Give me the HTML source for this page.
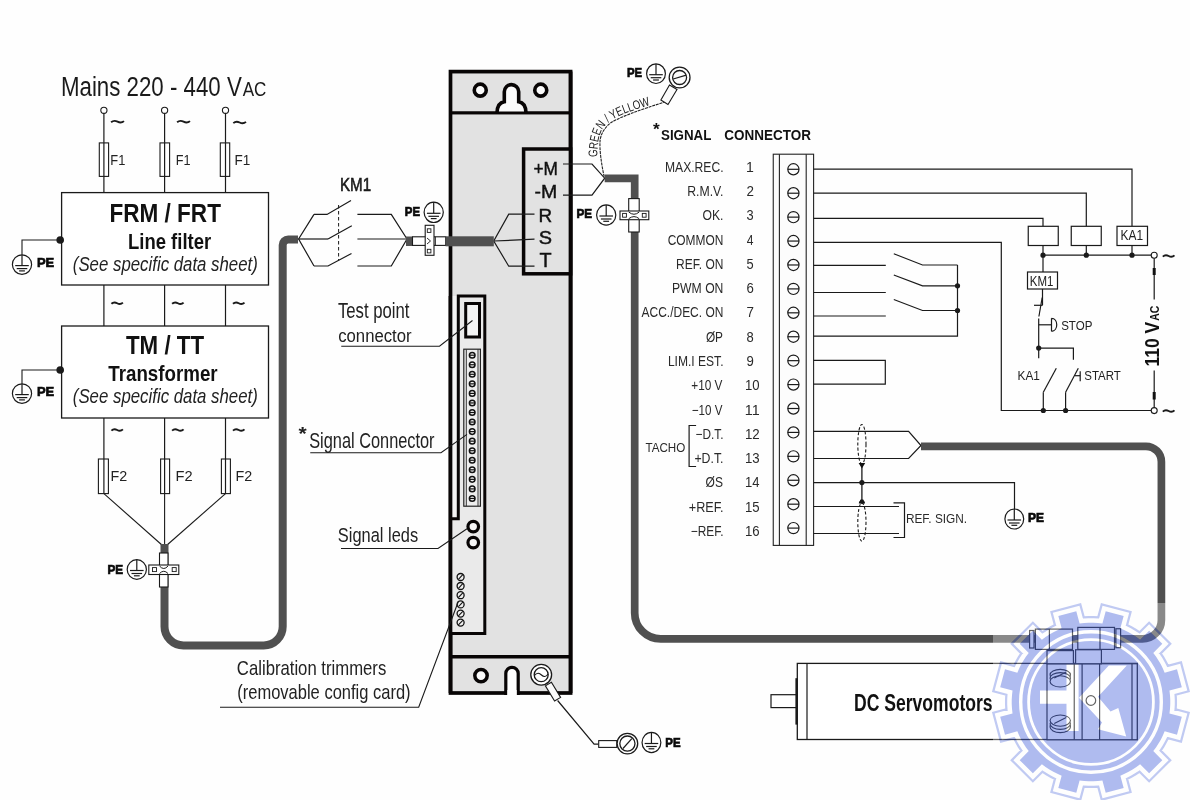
<!DOCTYPE html>
<html><head><meta charset="utf-8"><style>
html,body{margin:0;padding:0;background:#fff;}
svg{display:block;will-change:transform;}
</style></head><body>
<svg width="1190" height="800" viewBox="0 0 1190 800">
<rect width="1190" height="800" fill="#fefefe"/>
<text x="60.96" y="95.5" font-family="Liberation Sans" font-size="26.91" font-weight="normal" font-style="normal" fill="#1a1a1a" textLength="180.82" lengthAdjust="spacingAndGlyphs" >Mains 220 - 440 V</text>
<text x="242.76" y="95.5" font-family="Liberation Sans" font-size="19.35" font-weight="normal" font-style="normal" fill="#1a1a1a" textLength="23.67" lengthAdjust="spacingAndGlyphs" >AC</text>
<circle cx="103.9" cy="110.3" r="3.1" fill="#fff" stroke="#1a1a1a" stroke-width="1.1" />
<line x1="103.9" y1="113.4" x2="103.9" y2="192.6" stroke="#1a1a1a" stroke-width="1.2" />
<circle cx="164.6" cy="110.3" r="3.1" fill="#fff" stroke="#1a1a1a" stroke-width="1.1" />
<line x1="164.6" y1="113.4" x2="164.6" y2="192.6" stroke="#1a1a1a" stroke-width="1.2" />
<circle cx="225.5" cy="110.3" r="3.1" fill="#fff" stroke="#1a1a1a" stroke-width="1.1" />
<line x1="225.5" y1="113.4" x2="225.5" y2="192.6" stroke="#1a1a1a" stroke-width="1.2" />
<path d="M111.1,122.3 C113.67999999999999,120.10000000000001 115.615,120.7 117.55,121.7 S121.42,123.3 124.0,121.10000000000001" fill="none" stroke="#1a1a1a" stroke-width="1.9" />
<path d="M177.1,122.3 C179.68,120.10000000000001 181.615,120.7 183.55,121.7 S187.42,123.3 190.0,121.10000000000001" fill="none" stroke="#1a1a1a" stroke-width="1.9" />
<path d="M233.3,123.1 C235.84,120.9 237.745,121.5 239.65,122.5 S243.46,124.1 246.0,121.9" fill="none" stroke="#1a1a1a" stroke-width="1.9" />
<rect x="99.3" y="142.9" width="9.299999999999997" height="33.5" fill="#fff" stroke="#1a1a1a" stroke-width="1.1" />
<rect x="160.0" y="142.9" width="9.599999999999994" height="33.5" fill="#fff" stroke="#1a1a1a" stroke-width="1.1" />
<rect x="220.3" y="142.9" width="9.399999999999977" height="33.5" fill="#fff" stroke="#1a1a1a" stroke-width="1.1" />
<line x1="103.9" y1="142.9" x2="103.9" y2="176.4" stroke="#1a1a1a" stroke-width="1.2" />
<line x1="164.6" y1="142.9" x2="164.6" y2="176.4" stroke="#1a1a1a" stroke-width="1.2" />
<line x1="225.5" y1="142.9" x2="225.5" y2="176.4" stroke="#1a1a1a" stroke-width="1.2" />
<text x="110.34" y="164.6" font-family="Liberation Sans" font-size="13.96" font-weight="normal" font-style="normal" fill="#222" textLength="15.0" lengthAdjust="spacingAndGlyphs" >F1</text>
<text x="175.86" y="164.6" font-family="Liberation Sans" font-size="13.96" font-weight="normal" font-style="normal" fill="#222" textLength="14.77" lengthAdjust="spacingAndGlyphs" >F1</text>
<text x="234.58" y="164.6" font-family="Liberation Sans" font-size="13.96" font-weight="normal" font-style="normal" fill="#222" textLength="15.79" lengthAdjust="spacingAndGlyphs" >F1</text>
<rect x="61.6" y="192.6" width="206.9" height="92.4" fill="#fff" stroke="#1a1a1a" stroke-width="1.3" />
<text x="109.38" y="221.5" font-family="Liberation Sans" font-size="25.66" font-weight="bold" font-style="normal" fill="#111" textLength="111.57" lengthAdjust="spacingAndGlyphs" >FRM / FRT</text>
<text x="128.05" y="248.5" font-family="Liberation Sans" font-size="21.96" font-weight="bold" font-style="normal" fill="#111" textLength="83.09" lengthAdjust="spacingAndGlyphs" >Line filter</text>
<text x="72.8" y="270.9" font-family="Liberation Sans" font-size="19.31" font-weight="normal" font-style="italic" fill="#222" textLength="185.03" lengthAdjust="spacingAndGlyphs" >(See specific data sheet)</text>
<line x1="103.9" y1="285" x2="103.9" y2="326" stroke="#1a1a1a" stroke-width="1.2" />
<line x1="164.6" y1="285" x2="164.6" y2="326" stroke="#1a1a1a" stroke-width="1.2" />
<line x1="225.5" y1="285" x2="225.5" y2="326" stroke="#1a1a1a" stroke-width="1.2" />
<path d="M111.4,303.8 C113.7,301.59999999999997 115.42500000000001,302.2 117.15,303.2 S120.60000000000001,304.8 122.9,302.59999999999997" fill="none" stroke="#1a1a1a" stroke-width="1.9" />
<path d="M172.1,303.8 C174.4,301.59999999999997 176.125,302.2 177.85,303.2 S181.29999999999998,304.8 183.6,302.59999999999997" fill="none" stroke="#1a1a1a" stroke-width="1.9" />
<path d="M233.0,303.8 C235.3,301.59999999999997 237.025,302.2 238.75,303.2 S242.2,304.8 244.5,302.59999999999997" fill="none" stroke="#1a1a1a" stroke-width="1.9" />
<rect x="61.6" y="326.0" width="206.9" height="92.0" fill="#fff" stroke="#1a1a1a" stroke-width="1.3" />
<text x="125.98" y="353.5" font-family="Liberation Sans" font-size="25.66" font-weight="bold" font-style="normal" fill="#111" textLength="78.08" lengthAdjust="spacingAndGlyphs" >TM / TT</text>
<text x="108.31" y="380.8" font-family="Liberation Sans" font-size="22.69" font-weight="bold" font-style="normal" fill="#111" textLength="109.33" lengthAdjust="spacingAndGlyphs" >Transformer</text>
<text x="72.8" y="402.6" font-family="Liberation Sans" font-size="19.45" font-weight="normal" font-style="italic" fill="#222" textLength="185.03" lengthAdjust="spacingAndGlyphs" >(See specific data sheet)</text>
<circle cx="60.2" cy="240.0" r="3.8" fill="#1a1a1a"/>
<polyline points="60.2,240.0 22.0,240.0 22.0,254.8" fill="none" stroke="#1a1a1a" stroke-width="1.1" />
<ellipse cx="22.0" cy="264.6" rx="9.6" ry="9.8" fill="#fff" stroke="#1a1a1a" stroke-width="1.2"/>
<line x1="22.0" y1="254.8" x2="22.0" y2="265.6" stroke="#1a1a1a" stroke-width="1.2" />
<line x1="15.2" y1="265.6" x2="28.8" y2="265.6" stroke="#1a1a1a" stroke-width="1.2" />
<line x1="16.7" y1="268.6" x2="27.3" y2="268.6" stroke="#1a1a1a" stroke-width="1.2" />
<line x1="19.1" y1="270.90000000000003" x2="24.9" y2="270.90000000000003" stroke="#1a1a1a" stroke-width="1.2" />
<text x="36.93" y="267.1" font-family="Liberation Sans" font-size="13.09" font-weight="bold" font-style="normal" fill="#0a0a0a" textLength="17.28" lengthAdjust="spacingAndGlyphs" stroke="#0a0a0a" stroke-width="0.7">PE</text>
<circle cx="60.2" cy="370.0" r="3.8" fill="#1a1a1a"/>
<polyline points="60.2,370.0 22.0,370.0 22.0,383.8" fill="none" stroke="#1a1a1a" stroke-width="1.1" />
<ellipse cx="22.0" cy="393.6" rx="9.6" ry="9.8" fill="#fff" stroke="#1a1a1a" stroke-width="1.2"/>
<line x1="22.0" y1="383.8" x2="22.0" y2="394.6" stroke="#1a1a1a" stroke-width="1.2" />
<line x1="15.2" y1="394.6" x2="28.8" y2="394.6" stroke="#1a1a1a" stroke-width="1.2" />
<line x1="16.7" y1="397.6" x2="27.3" y2="397.6" stroke="#1a1a1a" stroke-width="1.2" />
<line x1="19.1" y1="399.90000000000003" x2="24.9" y2="399.90000000000003" stroke="#1a1a1a" stroke-width="1.2" />
<text x="36.93" y="396.1" font-family="Liberation Sans" font-size="13.09" font-weight="bold" font-style="normal" fill="#0a0a0a" textLength="17.28" lengthAdjust="spacingAndGlyphs" stroke="#0a0a0a" stroke-width="0.7">PE</text>
<line x1="103.9" y1="418" x2="103.9" y2="459" stroke="#1a1a1a" stroke-width="1.2" />
<line x1="164.6" y1="418" x2="164.6" y2="459" stroke="#1a1a1a" stroke-width="1.2" />
<line x1="225.5" y1="418" x2="225.5" y2="459" stroke="#1a1a1a" stroke-width="1.2" />
<path d="M111.4,430.6 C113.7,428.4 115.42500000000001,429.0 117.15,430.0 S120.60000000000001,431.6 122.9,429.4" fill="none" stroke="#1a1a1a" stroke-width="1.9" />
<path d="M172.1,430.6 C174.4,428.4 176.125,429.0 177.85,430.0 S181.29999999999998,431.6 183.6,429.4" fill="none" stroke="#1a1a1a" stroke-width="1.9" />
<path d="M233.0,430.6 C235.3,428.4 237.025,429.0 238.75,430.0 S242.2,431.6 244.5,429.4" fill="none" stroke="#1a1a1a" stroke-width="1.9" />
<rect x="98.4" y="459.0" width="10.0" height="34.6" fill="#fff" stroke="#1a1a1a" stroke-width="1.1" />
<line x1="103.9" y1="459" x2="103.9" y2="493.6" stroke="#1a1a1a" stroke-width="1.2" />
<rect x="160.6" y="459.0" width="9.0" height="34.6" fill="#fff" stroke="#1a1a1a" stroke-width="1.1" />
<line x1="164.6" y1="459" x2="164.6" y2="493.6" stroke="#1a1a1a" stroke-width="1.2" />
<rect x="221.4" y="459.0" width="9.0" height="34.6" fill="#fff" stroke="#1a1a1a" stroke-width="1.1" />
<line x1="225.5" y1="459" x2="225.5" y2="493.6" stroke="#1a1a1a" stroke-width="1.2" />
<text x="110.62" y="480.8" font-family="Liberation Sans" font-size="14.48" font-weight="normal" font-style="normal" fill="#222" textLength="16.73" lengthAdjust="spacingAndGlyphs" >F2</text>
<text x="175.49" y="480.8" font-family="Liberation Sans" font-size="14.48" font-weight="normal" font-style="normal" fill="#222" textLength="17.07" lengthAdjust="spacingAndGlyphs" >F2</text>
<text x="235.62" y="480.8" font-family="Liberation Sans" font-size="14.48" font-weight="normal" font-style="normal" fill="#222" textLength="16.73" lengthAdjust="spacingAndGlyphs" >F2</text>
<polyline points="103.9,493.6 162.5,545.5" fill="none" stroke="#1a1a1a" stroke-width="1.1" />
<polyline points="164.6,493.6 164.6,545.5" fill="none" stroke="#1a1a1a" stroke-width="1.1" />
<polyline points="225.5,493.6 166.5,545.5" fill="none" stroke="#1a1a1a" stroke-width="1.1" />
<path d="M164.5,544 L164.5,626.5 A19,19 0 0 0 183.5,645.5 L263.7,645.5 A19,19 0 0 0 282.7,626.5 L282.7,245 A5.5,5.5 0 0 1 288.2,239.5 L298,239.5" fill="none" stroke="#505050" stroke-width="8" stroke-linejoin="round"/>
<rect x="159.5" y="553" width="8.5" height="34" fill="#fff" stroke="#1a1a1a" stroke-width="1.1" />
<rect x="148.8" y="565" width="30" height="9.5" fill="#fff" stroke="#1a1a1a" stroke-width="1.1" />
<rect x="152.5" y="567.6" width="4" height="4" fill="none" stroke="#1a1a1a" stroke-width="0.9" />
<rect x="172.2" y="567.6" width="4" height="4" fill="none" stroke="#1a1a1a" stroke-width="0.9" />
<path d="M159.5,566 Q163.8,571 168,566" fill="none" stroke="#1a1a1a" stroke-width="1.0" />
<path d="M159.5,573.5 Q163.8,569 168,573.5" fill="none" stroke="#1a1a1a" stroke-width="1.0" />
<ellipse cx="136.8" cy="569.5" rx="9.6" ry="9.8" fill="#fff" stroke="#1a1a1a" stroke-width="1.2"/>
<line x1="136.8" y1="559.7" x2="136.8" y2="570.5" stroke="#1a1a1a" stroke-width="1.2" />
<line x1="130.0" y1="570.5" x2="143.60000000000002" y2="570.5" stroke="#1a1a1a" stroke-width="1.2" />
<line x1="131.5" y1="573.5" x2="142.10000000000002" y2="573.5" stroke="#1a1a1a" stroke-width="1.2" />
<line x1="133.9" y1="575.8" x2="139.70000000000002" y2="575.8" stroke="#1a1a1a" stroke-width="1.2" />
<text x="107.51" y="573.5" font-family="Liberation Sans" font-size="11.93" font-weight="bold" font-style="normal" fill="#0a0a0a" textLength="15.65" lengthAdjust="spacingAndGlyphs" stroke="#0a0a0a" stroke-width="0.7">PE</text>
<rect x="450.5" y="71.6" width="120.1" height="621.4" fill="#e2e2e2" stroke="#080505" stroke-width="3.7" />
<line x1="450.5" y1="112.8" x2="570.6" y2="112.8" stroke="#080505" stroke-width="2.7" />
<line x1="450.5" y1="656.7" x2="570.6" y2="656.7" stroke="#080505" stroke-width="3.4" />
<circle cx="480.25" cy="90.15" r="6.0" fill="#fbfbfb" stroke="#080505" stroke-width="3.6" />
<circle cx="540.75" cy="90.15" r="6.0" fill="#fbfbfb" stroke="#080505" stroke-width="3.6" />
<path d="M497.0,112.8 Q497.3,102.8 504.3,101.8 L504.3,91.8 A7.2,7.2 0 0 1 518.7,91.8 L518.7,101.8 Q525.7,102.8 526.0,112.8" fill="#fbfbfb" stroke="#080505" stroke-width="3.6" />
<line x1="450.5" y1="112.8" x2="570.6" y2="112.8" stroke="#080505" stroke-width="2.7" />
<rect x="523.6" y="149.0" width="47.0" height="124.8" fill="#e2e2e2" stroke="#080505" stroke-width="3.5" />
<line x1="570.6" y1="71.6" x2="570.6" y2="693" stroke="#080505" stroke-width="3.7" />
<text x="533.48" y="175.2" font-family="Liberation Sans" font-size="18.47" font-weight="normal" font-style="normal" fill="#111" textLength="24.43" lengthAdjust="spacingAndGlyphs" stroke="#111" stroke-width="0.45">+M</text>
<text x="534.62" y="197.8" font-family="Liberation Sans" font-size="19.2" font-weight="normal" font-style="normal" fill="#111" textLength="22.7" lengthAdjust="spacingAndGlyphs" stroke="#111" stroke-width="0.45">-M</text>
<text x="538.44" y="221.7" font-family="Liberation Sans" font-size="18.62" font-weight="normal" font-style="normal" fill="#111" textLength="13.65" lengthAdjust="spacingAndGlyphs" stroke="#111" stroke-width="0.45">R</text>
<text x="538.8" y="243.6" font-family="Liberation Sans" font-size="18.06" font-weight="normal" font-style="normal" fill="#111" textLength="13.28" lengthAdjust="spacingAndGlyphs" stroke="#111" stroke-width="0.45">S</text>
<text x="539.55" y="267.4" font-family="Liberation Sans" font-size="19.64" font-weight="normal" font-style="normal" fill="#111" textLength="12.11" lengthAdjust="spacingAndGlyphs" stroke="#111" stroke-width="0.45">T</text>
<polyline points="534.5,214.2 508.75,214.2 493.75,241.0 508.75,266.2 534.5,266.2" fill="none" stroke="#1a1a1a" stroke-width="1.2" />
<line x1="493.75" y1="241.0" x2="534.5" y2="239.2" stroke="#1a1a1a" stroke-width="1.2" />
<polyline points="563.0,164.0 592.0,164.0 604.7,178.2 592.0,195.2 563.0,195.2" fill="none" stroke="#1a1a1a" stroke-width="1.2" />
<rect x="452" y="296" width="6" height="222" fill="#f3f3f3"/>
<path d="M458.3,296 L484.8,296 L484.8,633.4 L450.5,633.4 L450.5,518.8 L458.3,518.8 Z" fill="#eaeaea" stroke="#080505" stroke-width="3"/>
<line x1="450.5" y1="296" x2="450.5" y2="693" stroke="#080505" stroke-width="3.7" />
<rect x="465.7" y="303.5" width="13.8" height="33.5" fill="#f4f4f4" stroke="#080505" stroke-width="3.0" />
<rect x="463.8" y="349.2" width="16.6" height="157.0" fill="#eeeeee" stroke="#222" stroke-width="1.2" />
<line x1="466.3" y1="349.2" x2="466.3" y2="506.2" stroke="#333" stroke-width="1.0" />
<line x1="478.0" y1="349.2" x2="478.0" y2="506.2" stroke="#333" stroke-width="1.0" />
<circle cx="472.2" cy="355.2" r="2.8" fill="#f4f4f4" stroke="#111" stroke-width="1.5" />
<line x1="469.4" y1="355.2" x2="475.0" y2="355.2" stroke="#111" stroke-width="1.2" />
<circle cx="472.2" cy="364.75" r="2.8" fill="#f4f4f4" stroke="#111" stroke-width="1.5" />
<line x1="469.4" y1="364.75" x2="475.0" y2="364.75" stroke="#111" stroke-width="1.2" />
<circle cx="472.2" cy="374.3" r="2.8" fill="#f4f4f4" stroke="#111" stroke-width="1.5" />
<line x1="469.4" y1="374.3" x2="475.0" y2="374.3" stroke="#111" stroke-width="1.2" />
<circle cx="472.2" cy="383.84999999999997" r="2.8" fill="#f4f4f4" stroke="#111" stroke-width="1.5" />
<line x1="469.4" y1="383.84999999999997" x2="475.0" y2="383.84999999999997" stroke="#111" stroke-width="1.2" />
<circle cx="472.2" cy="393.4" r="2.8" fill="#f4f4f4" stroke="#111" stroke-width="1.5" />
<line x1="469.4" y1="393.4" x2="475.0" y2="393.4" stroke="#111" stroke-width="1.2" />
<circle cx="472.2" cy="402.95" r="2.8" fill="#f4f4f4" stroke="#111" stroke-width="1.5" />
<line x1="469.4" y1="402.95" x2="475.0" y2="402.95" stroke="#111" stroke-width="1.2" />
<circle cx="472.2" cy="412.5" r="2.8" fill="#f4f4f4" stroke="#111" stroke-width="1.5" />
<line x1="469.4" y1="412.5" x2="475.0" y2="412.5" stroke="#111" stroke-width="1.2" />
<circle cx="472.2" cy="422.05" r="2.8" fill="#f4f4f4" stroke="#111" stroke-width="1.5" />
<line x1="469.4" y1="422.05" x2="475.0" y2="422.05" stroke="#111" stroke-width="1.2" />
<circle cx="472.2" cy="431.6" r="2.8" fill="#f4f4f4" stroke="#111" stroke-width="1.5" />
<line x1="469.4" y1="431.6" x2="475.0" y2="431.6" stroke="#111" stroke-width="1.2" />
<circle cx="472.2" cy="441.15" r="2.8" fill="#f4f4f4" stroke="#111" stroke-width="1.5" />
<line x1="469.4" y1="441.15" x2="475.0" y2="441.15" stroke="#111" stroke-width="1.2" />
<circle cx="472.2" cy="450.7" r="2.8" fill="#f4f4f4" stroke="#111" stroke-width="1.5" />
<line x1="469.4" y1="450.7" x2="475.0" y2="450.7" stroke="#111" stroke-width="1.2" />
<circle cx="472.2" cy="460.25" r="2.8" fill="#f4f4f4" stroke="#111" stroke-width="1.5" />
<line x1="469.4" y1="460.25" x2="475.0" y2="460.25" stroke="#111" stroke-width="1.2" />
<circle cx="472.2" cy="469.8" r="2.8" fill="#f4f4f4" stroke="#111" stroke-width="1.5" />
<line x1="469.4" y1="469.8" x2="475.0" y2="469.8" stroke="#111" stroke-width="1.2" />
<circle cx="472.2" cy="479.35" r="2.8" fill="#f4f4f4" stroke="#111" stroke-width="1.5" />
<line x1="469.4" y1="479.35" x2="475.0" y2="479.35" stroke="#111" stroke-width="1.2" />
<circle cx="472.2" cy="488.9" r="2.8" fill="#f4f4f4" stroke="#111" stroke-width="1.5" />
<line x1="469.4" y1="488.9" x2="475.0" y2="488.9" stroke="#111" stroke-width="1.2" />
<circle cx="472.2" cy="498.45" r="2.8" fill="#f4f4f4" stroke="#111" stroke-width="1.5" />
<line x1="469.4" y1="498.45" x2="475.0" y2="498.45" stroke="#111" stroke-width="1.2" />
<circle cx="473.25" cy="526.6" r="5.3" fill="#f6f6f6" stroke="#080505" stroke-width="3.2" />
<circle cx="473.25" cy="542.6" r="5.3" fill="#f6f6f6" stroke="#080505" stroke-width="3.2" />
<circle cx="460.6" cy="577.0" r="3.5" fill="#f0f0f0" stroke="#111" stroke-width="1.3" />
<line x1="458.4" y1="579.3" x2="462.8" y2="574.7" stroke="#111" stroke-width="1.1" />
<circle cx="460.6" cy="586.0" r="3.5" fill="#f0f0f0" stroke="#111" stroke-width="1.3" />
<line x1="458.4" y1="588.3" x2="462.8" y2="583.7" stroke="#111" stroke-width="1.1" />
<circle cx="460.6" cy="595.2" r="3.5" fill="#f0f0f0" stroke="#111" stroke-width="1.3" />
<line x1="458.4" y1="597.5" x2="462.8" y2="592.9000000000001" stroke="#111" stroke-width="1.1" />
<circle cx="460.6" cy="604.4" r="3.5" fill="#f0f0f0" stroke="#111" stroke-width="1.3" />
<line x1="458.4" y1="606.6999999999999" x2="462.8" y2="602.1" stroke="#111" stroke-width="1.1" />
<circle cx="460.6" cy="613.6" r="3.5" fill="#f0f0f0" stroke="#111" stroke-width="1.3" />
<line x1="458.4" y1="615.9" x2="462.8" y2="611.3000000000001" stroke="#111" stroke-width="1.1" />
<circle cx="460.6" cy="622.6" r="3.5" fill="#f0f0f0" stroke="#111" stroke-width="1.3" />
<line x1="458.4" y1="624.9" x2="462.8" y2="620.3000000000001" stroke="#111" stroke-width="1.1" />
<circle cx="481.0" cy="675.6" r="6.2" fill="#fbfbfb" stroke="#080505" stroke-width="3.5" />
<path d="M505.8,695 L505.8,673.6 A6.2,6.2 0 0 1 518.2,673.6 L518.2,695" fill="#fefefe" stroke="#080505" stroke-width="3.2" />
<rect x="507.4" y="690" width="9.2" height="8" fill="#fefefe"/>
<polygon points="545.4,685.9 551.4,682.3 560.6,697.4 554.6,701.0" fill="#fbfbfb" stroke="#1a1a1a" stroke-width="1.1"/>
<circle cx="541.2" cy="674.7" r="10.4" fill="#fff" stroke="#1a1a1a" stroke-width="1.3" />
<circle cx="541.2" cy="674.7" r="7.0" fill="#fff" stroke="#1a1a1a" stroke-width="1.3" />
<path d="M534.5,675.5 C537,672 539.5,673 541.5,675 S546,677.5 548,674" fill="none" stroke="#1a1a1a" stroke-width="1.1" />
<polyline points="557.6,700.5 594.1,744.2 598.7,744.2" fill="none" stroke="#1a1a1a" stroke-width="1.2" />
<rect x="598.7" y="740.6" width="18.1" height="6.8" fill="#fff" stroke="#1a1a1a" stroke-width="1.1" />
<circle cx="627.4" cy="743.6" r="10.3" fill="#fff" stroke="#1a1a1a" stroke-width="1.3" />
<circle cx="627.4" cy="743.6" r="7.6" fill="#fff" stroke="#1a1a1a" stroke-width="1.3" />
<line x1="623.0" y1="748.5" x2="631.8" y2="738.7" stroke="#1a1a1a" stroke-width="1.2" />
<ellipse cx="651.45" cy="742.5" rx="9.4" ry="10.1" fill="#fff" stroke="#1a1a1a" stroke-width="1.2"/>
<line x1="651.45" y1="732.4" x2="651.45" y2="743.5" stroke="#1a1a1a" stroke-width="1.2" />
<line x1="644.6500000000001" y1="743.5" x2="658.25" y2="743.5" stroke="#1a1a1a" stroke-width="1.2" />
<line x1="646.1500000000001" y1="746.5" x2="656.75" y2="746.5" stroke="#1a1a1a" stroke-width="1.2" />
<line x1="648.5500000000001" y1="748.8" x2="654.35" y2="748.8" stroke="#1a1a1a" stroke-width="1.2" />
<text x="665.32" y="746.6" font-family="Liberation Sans" font-size="12.87" font-weight="bold" font-style="normal" fill="#0a0a0a" textLength="15.32" lengthAdjust="spacingAndGlyphs" stroke="#0a0a0a" stroke-width="0.7">PE</text>
<text x="339.95" y="190.6" font-family="Liberation Sans" font-size="17.6" font-weight="normal" font-style="normal" fill="#1a1a1a" textLength="31.19" lengthAdjust="spacingAndGlyphs" stroke="#1a1a1a" stroke-width="0.55">KM1</text>
<polyline points="314,214.4 298.6,239 314,266" fill="none" stroke="#1a1a1a" stroke-width="1.2" />
<line x1="298.6" y1="239" x2="328" y2="239" stroke="#1a1a1a" stroke-width="1.2" />
<polyline points="314,214.4 327,214.4 351,200.4" fill="none" stroke="#1a1a1a" stroke-width="1.2" />
<polyline points="328,239 351.8,225.8" fill="none" stroke="#1a1a1a" stroke-width="1.2" />
<polyline points="314,266 328,266 351.5,253.5" fill="none" stroke="#1a1a1a" stroke-width="1.2" />
<line x1="338.6" y1="205" x2="338.6" y2="260.6" stroke="#1a1a1a" stroke-width="1.0" stroke-dasharray="3.5,2.5"/>
<polyline points="357.4,214.4 391.3,214.4 407,239 391.3,266 357.4,266" fill="none" stroke="#1a1a1a" stroke-width="1.2" />
<line x1="357.4" y1="239" x2="407" y2="239" stroke="#1a1a1a" stroke-width="1.2" />
<rect x="406" y="236.5" width="7" height="9.5" fill="#505050"/>
<rect x="412.5" y="236.8" width="33.2" height="8.6" fill="#fff" stroke="#1a1a1a" stroke-width="1.1" />
<line x1="435.3" y1="236.8" x2="435.3" y2="245.4" stroke="#1a1a1a" stroke-width="1.0" />
<rect x="425.2" y="225.3" width="8.8" height="30" fill="#fff" stroke="#1a1a1a" stroke-width="1.1" />
<rect x="427.3" y="228.8" width="3.6" height="3.6" fill="none" stroke="#1a1a1a" stroke-width="0.9" />
<rect x="427.3" y="249.3" width="3.6" height="3.6" fill="none" stroke="#1a1a1a" stroke-width="0.9" />
<path d="M427,238 L430.5,241 L427,244" fill="none" stroke="#1a1a1a" stroke-width="0.9" />
<rect x="445.6" y="236.3" width="48.2" height="10" fill="#505050"/>
<ellipse cx="433.7" cy="212.3" rx="9.6" ry="10.2" fill="#fff" stroke="#1a1a1a" stroke-width="1.2"/>
<line x1="433.7" y1="202.10000000000002" x2="433.7" y2="213.3" stroke="#1a1a1a" stroke-width="1.2" />
<line x1="426.9" y1="213.3" x2="440.5" y2="213.3" stroke="#1a1a1a" stroke-width="1.2" />
<line x1="428.4" y1="216.3" x2="439.0" y2="216.3" stroke="#1a1a1a" stroke-width="1.2" />
<line x1="430.8" y1="218.60000000000002" x2="436.59999999999997" y2="218.60000000000002" stroke="#1a1a1a" stroke-width="1.2" />
<text x="404.83" y="215.89999999999998" font-family="Liberation Sans" font-size="11.93" font-weight="bold" font-style="normal" fill="#0a0a0a" textLength="15.21" lengthAdjust="spacingAndGlyphs" stroke="#0a0a0a" stroke-width="0.7">PE</text>
<text x="653.01" y="135.13" font-family="Liberation Sans" font-size="16.91" font-weight="bold" font-style="normal" fill="#111" textLength="6.72" lengthAdjust="spacingAndGlyphs" >*</text>
<text x="661.0" y="139.5" font-family="Liberation Sans" font-size="15.56" font-weight="bold" font-style="normal" fill="#111" textLength="50.41" lengthAdjust="spacingAndGlyphs" >SIGNAL</text>
<text x="724.36" y="139.5" font-family="Liberation Sans" font-size="15.56" font-weight="bold" font-style="normal" fill="#111" textLength="86.53" lengthAdjust="spacingAndGlyphs" >CONNECTOR</text>
<text x="665.0" y="171.8" font-family="Liberation Sans" font-size="14.25" font-weight="normal" font-style="normal" fill="#2a2a2a" textLength="58.51" lengthAdjust="spacingAndGlyphs" >MAX.REC.</text>
<text x="746.04" y="171.8" font-family="Liberation Sans" font-size="14.25" font-weight="normal" font-style="normal" fill="#2a2a2a" textLength="7.84" lengthAdjust="spacingAndGlyphs" >1</text>
<text x="687.19" y="196.07000000000002" font-family="Liberation Sans" font-size="14.25" font-weight="normal" font-style="normal" fill="#2a2a2a" textLength="36.33" lengthAdjust="spacingAndGlyphs" >R.M.V.</text>
<text x="746.43" y="196.07000000000002" font-family="Liberation Sans" font-size="14.25" font-weight="normal" font-style="normal" fill="#2a2a2a" textLength="7.46" lengthAdjust="spacingAndGlyphs" >2</text>
<text x="702.52" y="220.34" font-family="Liberation Sans" font-size="14.25" font-weight="normal" font-style="normal" fill="#2a2a2a" textLength="20.98" lengthAdjust="spacingAndGlyphs" >OK.</text>
<text x="746.62" y="220.34" font-family="Liberation Sans" font-size="14.25" font-weight="normal" font-style="normal" fill="#2a2a2a" textLength="7.14" lengthAdjust="spacingAndGlyphs" >3</text>
<text x="667.7" y="244.61" font-family="Liberation Sans" font-size="14.25" font-weight="normal" font-style="normal" fill="#2a2a2a" textLength="55.66" lengthAdjust="spacingAndGlyphs" >COMMON</text>
<text x="746.83" y="244.61" font-family="Liberation Sans" font-size="14.25" font-weight="normal" font-style="normal" fill="#2a2a2a" textLength="6.72" lengthAdjust="spacingAndGlyphs" >4</text>
<text x="676.11" y="268.88" font-family="Liberation Sans" font-size="14.25" font-weight="normal" font-style="normal" fill="#2a2a2a" textLength="47.28" lengthAdjust="spacingAndGlyphs" >REF. ON</text>
<text x="746.59" y="268.88" font-family="Liberation Sans" font-size="14.25" font-weight="normal" font-style="normal" fill="#2a2a2a" textLength="7.14" lengthAdjust="spacingAndGlyphs" >5</text>
<text x="672.0" y="293.15" font-family="Liberation Sans" font-size="14.25" font-weight="normal" font-style="normal" fill="#2a2a2a" textLength="51.4" lengthAdjust="spacingAndGlyphs" >PWM ON</text>
<text x="746.44" y="293.15" font-family="Liberation Sans" font-size="14.25" font-weight="normal" font-style="normal" fill="#2a2a2a" textLength="7.34" lengthAdjust="spacingAndGlyphs" >6</text>
<text x="641.57" y="317.42" font-family="Liberation Sans" font-size="14.25" font-weight="normal" font-style="normal" fill="#2a2a2a" textLength="81.81" lengthAdjust="spacingAndGlyphs" >ACC./DEC. ON</text>
<text x="746.43" y="317.42" font-family="Liberation Sans" font-size="14.25" font-weight="normal" font-style="normal" fill="#2a2a2a" textLength="7.46" lengthAdjust="spacingAndGlyphs" >7</text>
<text x="705.88" y="341.69" font-family="Liberation Sans" font-size="14.25" font-weight="normal" font-style="normal" fill="#2a2a2a" textLength="17.14" lengthAdjust="spacingAndGlyphs" >ØP</text>
<text x="746.55" y="341.69" font-family="Liberation Sans" font-size="14.25" font-weight="normal" font-style="normal" fill="#2a2a2a" textLength="7.22" lengthAdjust="spacingAndGlyphs" >8</text>
<text x="667.91" y="365.96000000000004" font-family="Liberation Sans" font-size="14.25" font-weight="normal" font-style="normal" fill="#2a2a2a" textLength="55.58" lengthAdjust="spacingAndGlyphs" >LIM.I EST.</text>
<text x="746.47" y="365.96000000000004" font-family="Liberation Sans" font-size="14.25" font-weight="normal" font-style="normal" fill="#2a2a2a" textLength="7.34" lengthAdjust="spacingAndGlyphs" >9</text>
<text x="691.24" y="390.23" font-family="Liberation Sans" font-size="14.25" font-weight="normal" font-style="normal" fill="#2a2a2a" textLength="31.2" lengthAdjust="spacingAndGlyphs" >+10 V</text>
<text x="744.92" y="390.23" font-family="Liberation Sans" font-size="14.25" font-weight="normal" font-style="normal" fill="#2a2a2a" textLength="14.61" lengthAdjust="spacingAndGlyphs" >10</text>
<text x="691.82" y="414.5" font-family="Liberation Sans" font-size="14.25" font-weight="normal" font-style="normal" fill="#2a2a2a" textLength="30.62" lengthAdjust="spacingAndGlyphs" >−10 V</text>
<text x="744.83" y="414.5" font-family="Liberation Sans" font-size="14.25" font-weight="normal" font-style="normal" fill="#2a2a2a" textLength="14.86" lengthAdjust="spacingAndGlyphs" >11</text>
<text x="695.51" y="438.77" font-family="Liberation Sans" font-size="14.25" font-weight="normal" font-style="normal" fill="#2a2a2a" textLength="27.95" lengthAdjust="spacingAndGlyphs" >−D.T.</text>
<text x="744.9" y="438.77" font-family="Liberation Sans" font-size="14.25" font-weight="normal" font-style="normal" fill="#2a2a2a" textLength="14.79" lengthAdjust="spacingAndGlyphs" >12</text>
<text x="694.42" y="463.04" font-family="Liberation Sans" font-size="14.25" font-weight="normal" font-style="normal" fill="#2a2a2a" textLength="29.09" lengthAdjust="spacingAndGlyphs" >+D.T.</text>
<text x="744.91" y="463.04" font-family="Liberation Sans" font-size="14.25" font-weight="normal" font-style="normal" fill="#2a2a2a" textLength="14.68" lengthAdjust="spacingAndGlyphs" >13</text>
<text x="705.58" y="487.31" font-family="Liberation Sans" font-size="14.25" font-weight="normal" font-style="normal" fill="#2a2a2a" textLength="17.36" lengthAdjust="spacingAndGlyphs" >ØS</text>
<text x="744.92" y="487.31" font-family="Liberation Sans" font-size="14.25" font-weight="normal" font-style="normal" fill="#2a2a2a" textLength="14.46" lengthAdjust="spacingAndGlyphs" >14</text>
<text x="688.8" y="511.58" font-family="Liberation Sans" font-size="14.25" font-weight="normal" font-style="normal" fill="#2a2a2a" textLength="34.75" lengthAdjust="spacingAndGlyphs" >+REF.</text>
<text x="744.91" y="511.58" font-family="Liberation Sans" font-size="14.25" font-weight="normal" font-style="normal" fill="#2a2a2a" textLength="14.64" lengthAdjust="spacingAndGlyphs" >15</text>
<text x="690.81" y="535.85" font-family="Liberation Sans" font-size="14.25" font-weight="normal" font-style="normal" fill="#2a2a2a" textLength="32.68" lengthAdjust="spacingAndGlyphs" >−REF.</text>
<text x="744.91" y="535.85" font-family="Liberation Sans" font-size="14.25" font-weight="normal" font-style="normal" fill="#2a2a2a" textLength="14.68" lengthAdjust="spacingAndGlyphs" >16</text>
<text x="645.44" y="451.9" font-family="Liberation Sans" font-size="13.62" font-weight="normal" font-style="normal" fill="#2a2a2a" textLength="39.82" lengthAdjust="spacingAndGlyphs" >TACHO</text>
<polyline points="696.1,425.5 689.1,425.5 689.1,466.5 696.1,466.5" fill="none" stroke="#1a1a1a" stroke-width="1.2" />
<rect x="773.25" y="154.2" width="40.35" height="391.2" fill="#fcfcfc" stroke="#222" stroke-width="1.1" />
<line x1="779.4" y1="154.2" x2="779.4" y2="545.4" stroke="#222" stroke-width="1.1" />
<line x1="806.2" y1="154.2" x2="806.2" y2="545.4" stroke="#222" stroke-width="1.1" />
<circle cx="793.4" cy="169.3" r="5.6" fill="#fcfcfc" stroke="#1a1a1a" stroke-width="1.2" />
<line x1="787.8" y1="169.3" x2="799.0" y2="169.3" stroke="#1a1a1a" stroke-width="1.2" />
<circle cx="793.4" cy="193.22000000000003" r="5.6" fill="#fcfcfc" stroke="#1a1a1a" stroke-width="1.2" />
<line x1="787.8" y1="193.22000000000003" x2="799.0" y2="193.22000000000003" stroke="#1a1a1a" stroke-width="1.2" />
<circle cx="793.4" cy="217.14000000000001" r="5.6" fill="#fcfcfc" stroke="#1a1a1a" stroke-width="1.2" />
<line x1="787.8" y1="217.14000000000001" x2="799.0" y2="217.14000000000001" stroke="#1a1a1a" stroke-width="1.2" />
<circle cx="793.4" cy="241.06" r="5.6" fill="#fcfcfc" stroke="#1a1a1a" stroke-width="1.2" />
<line x1="787.8" y1="241.06" x2="799.0" y2="241.06" stroke="#1a1a1a" stroke-width="1.2" />
<circle cx="793.4" cy="264.98" r="5.6" fill="#fcfcfc" stroke="#1a1a1a" stroke-width="1.2" />
<line x1="787.8" y1="264.98" x2="799.0" y2="264.98" stroke="#1a1a1a" stroke-width="1.2" />
<circle cx="793.4" cy="288.90000000000003" r="5.6" fill="#fcfcfc" stroke="#1a1a1a" stroke-width="1.2" />
<line x1="787.8" y1="288.90000000000003" x2="799.0" y2="288.90000000000003" stroke="#1a1a1a" stroke-width="1.2" />
<circle cx="793.4" cy="312.82000000000005" r="5.6" fill="#fcfcfc" stroke="#1a1a1a" stroke-width="1.2" />
<line x1="787.8" y1="312.82000000000005" x2="799.0" y2="312.82000000000005" stroke="#1a1a1a" stroke-width="1.2" />
<circle cx="793.4" cy="336.74" r="5.6" fill="#fcfcfc" stroke="#1a1a1a" stroke-width="1.2" />
<line x1="787.8" y1="336.74" x2="799.0" y2="336.74" stroke="#1a1a1a" stroke-width="1.2" />
<circle cx="793.4" cy="360.66" r="5.6" fill="#fcfcfc" stroke="#1a1a1a" stroke-width="1.2" />
<line x1="787.8" y1="360.66" x2="799.0" y2="360.66" stroke="#1a1a1a" stroke-width="1.2" />
<circle cx="793.4" cy="384.58000000000004" r="5.6" fill="#fcfcfc" stroke="#1a1a1a" stroke-width="1.2" />
<line x1="787.8" y1="384.58000000000004" x2="799.0" y2="384.58000000000004" stroke="#1a1a1a" stroke-width="1.2" />
<circle cx="793.4" cy="408.5" r="5.6" fill="#fcfcfc" stroke="#1a1a1a" stroke-width="1.2" />
<line x1="787.8" y1="408.5" x2="799.0" y2="408.5" stroke="#1a1a1a" stroke-width="1.2" />
<circle cx="793.4" cy="432.42" r="5.6" fill="#fcfcfc" stroke="#1a1a1a" stroke-width="1.2" />
<line x1="787.8" y1="432.42" x2="799.0" y2="432.42" stroke="#1a1a1a" stroke-width="1.2" />
<circle cx="793.4" cy="456.34000000000003" r="5.6" fill="#fcfcfc" stroke="#1a1a1a" stroke-width="1.2" />
<line x1="787.8" y1="456.34000000000003" x2="799.0" y2="456.34000000000003" stroke="#1a1a1a" stroke-width="1.2" />
<circle cx="793.4" cy="480.26000000000005" r="5.6" fill="#fcfcfc" stroke="#1a1a1a" stroke-width="1.2" />
<line x1="787.8" y1="480.26000000000005" x2="799.0" y2="480.26000000000005" stroke="#1a1a1a" stroke-width="1.2" />
<circle cx="793.4" cy="504.18" r="5.6" fill="#fcfcfc" stroke="#1a1a1a" stroke-width="1.2" />
<line x1="787.8" y1="504.18" x2="799.0" y2="504.18" stroke="#1a1a1a" stroke-width="1.2" />
<circle cx="793.4" cy="528.1" r="5.6" fill="#fcfcfc" stroke="#1a1a1a" stroke-width="1.2" />
<line x1="787.8" y1="528.1" x2="799.0" y2="528.1" stroke="#1a1a1a" stroke-width="1.2" />
<polyline points="813.6,169.2 1132.0,169.2 1132.0,226.3" fill="none" stroke="#1a1a1a" stroke-width="1.2" />
<polyline points="813.6,193.1 1086.3,193.1 1086.3,226.3" fill="none" stroke="#1a1a1a" stroke-width="1.2" />
<polyline points="813.6,218.3 1043.0,218.3 1043.0,226.3" fill="none" stroke="#1a1a1a" stroke-width="1.2" />
<polyline points="813.6,242.4 1001.3,242.4 1001.3,410.5 1151.2,410.5" fill="none" stroke="#1a1a1a" stroke-width="1.2" />
<line x1="813.6" y1="265.4" x2="885.8" y2="265.4" stroke="#1a1a1a" stroke-width="1.2" />
<line x1="813.6" y1="292.5" x2="885.8" y2="292.5" stroke="#1a1a1a" stroke-width="1.2" />
<line x1="813.6" y1="316.0" x2="885.8" y2="316.0" stroke="#1a1a1a" stroke-width="1.2" />
<polyline points="813.6,336.2 957.5,336.2 957.5,265.0" fill="none" stroke="#1a1a1a" stroke-width="1.2" />
<polyline points="893.8,253.8 922.5,265.0 957.5,265.0" fill="none" stroke="#1a1a1a" stroke-width="1.2" />
<polyline points="893.8,275.0 922.5,285.8 957.5,285.8" fill="none" stroke="#1a1a1a" stroke-width="1.2" />
<polyline points="893.8,299.5 922.5,310.5 957.5,310.5" fill="none" stroke="#1a1a1a" stroke-width="1.2" />
<circle cx="957.5" cy="285.8" r="2.6" fill="#1a1a1a"/>
<circle cx="957.5" cy="310.5" r="2.6" fill="#1a1a1a"/>
<polyline points="813.6,360.4 885.3,360.4 885.3,384.1 813.6,384.1" fill="none" stroke="#1a1a1a" stroke-width="1.2" />
<polyline points="813.6,431.4 908.6,431.4 921.0,445.5 908.6,458.5 813.6,458.5" fill="none" stroke="#1a1a1a" stroke-width="1.2" />
<polyline points="813.6,482.6 1014.5,482.6 1014.5,509.5" fill="none" stroke="#1a1a1a" stroke-width="1.2" />
<ellipse cx="1014.3" cy="519.0" rx="9.4" ry="10.0" fill="#fff" stroke="#1a1a1a" stroke-width="1.2"/>
<line x1="1014.3" y1="509.0" x2="1014.3" y2="520.0" stroke="#1a1a1a" stroke-width="1.2" />
<line x1="1007.5" y1="520.0" x2="1021.0999999999999" y2="520.0" stroke="#1a1a1a" stroke-width="1.2" />
<line x1="1009.0" y1="523.0" x2="1019.5999999999999" y2="523.0" stroke="#1a1a1a" stroke-width="1.2" />
<line x1="1011.4" y1="525.3" x2="1017.1999999999999" y2="525.3" stroke="#1a1a1a" stroke-width="1.2" />
<text x="1027.99" y="522.4000000000001" font-family="Liberation Sans" font-size="12.22" font-weight="bold" font-style="normal" fill="#0a0a0a" textLength="15.98" lengthAdjust="spacingAndGlyphs" stroke="#0a0a0a" stroke-width="0.7">PE</text>
<line x1="813.6" y1="506.5" x2="899.0" y2="506.5" stroke="#1a1a1a" stroke-width="1.2" />
<line x1="813.6" y1="533.5" x2="899.0" y2="533.5" stroke="#1a1a1a" stroke-width="1.2" />
<polyline points="893.5,502.8 904.5,502.8 904.5,537.5 893.5,537.5" fill="none" stroke="#1a1a1a" stroke-width="1.2" />
<text x="905.92" y="523.1" font-family="Liberation Sans" font-size="13.48" font-weight="normal" font-style="normal" fill="#2a2a2a" textLength="61.25" lengthAdjust="spacingAndGlyphs" >REF. SIGN.</text>
<ellipse cx="861.9" cy="444.2" rx="4.1" ry="19.7" fill="none" stroke="#1a1a1a" stroke-width="1.1" stroke-dasharray="3,2"/>
<ellipse cx="861.9" cy="522.0" rx="4.1" ry="19.1" fill="none" stroke="#1a1a1a" stroke-width="1.1" stroke-dasharray="3,2"/>
<line x1="861.9" y1="464" x2="861.9" y2="503" stroke="#1a1a1a" stroke-width="1.3" />
<path d="M858.6,463 L865.2,463 L861.9,468.5 Z" fill="#111"/>
<circle cx="861.9" cy="482.6" r="2.6" fill="#1a1a1a"/>
<path d="M858.8,503.5 A3.1,3.1 0 0 1 865,503.5 Z" fill="#111"/>
<circle cx="861.9" cy="501.5" r="2.2" fill="#1a1a1a"/>
<rect x="1028.25" y="226.3" width="30.0" height="19.2" fill="#fff" stroke="#1a1a1a" stroke-width="1.2" />
<rect x="1071.25" y="226.3" width="30.0" height="19.2" fill="#fff" stroke="#1a1a1a" stroke-width="1.2" />
<rect x="1117.0" y="226.3" width="30.5" height="19.2" fill="#fff" stroke="#1a1a1a" stroke-width="1.2" />
<text x="1120.62" y="240.4" font-family="Liberation Sans" font-size="14.69" font-weight="normal" font-style="normal" fill="#222" textLength="22.55" lengthAdjust="spacingAndGlyphs" >KA1</text>
<line x1="1043.0" y1="245.5" x2="1043.0" y2="255.2" stroke="#1a1a1a" stroke-width="1.2" />
<circle cx="1043.0" cy="255.2" r="2.6" fill="#1a1a1a"/>
<line x1="1086.3" y1="245.5" x2="1086.3" y2="255.2" stroke="#1a1a1a" stroke-width="1.2" />
<circle cx="1086.3" cy="255.2" r="2.6" fill="#1a1a1a"/>
<line x1="1132.0" y1="245.5" x2="1132.0" y2="255.2" stroke="#1a1a1a" stroke-width="1.2" />
<circle cx="1132.0" cy="255.2" r="2.6" fill="#1a1a1a"/>
<line x1="1043.0" y1="255.2" x2="1151.2" y2="255.2" stroke="#1a1a1a" stroke-width="1.2" />
<circle cx="1154.2" cy="255.3" r="3.0" fill="#fff" stroke="#1a1a1a" stroke-width="1.1" />
<circle cx="1154.2" cy="410.6" r="3.0" fill="#fff" stroke="#1a1a1a" stroke-width="1.1" />
<path d="M1162.8,256.6 C1165.1399999999999,254.4 1166.895,255.0 1168.65,256.0 S1172.16,257.6 1174.5,255.4" fill="none" stroke="#1a1a1a" stroke-width="1.9" />
<path d="M1162.8,411.6 C1165.1399999999999,409.4 1166.895,410.0 1168.65,411.0 S1172.16,412.6 1174.5,410.4" fill="none" stroke="#1a1a1a" stroke-width="1.9" />
<line x1="1043.0" y1="255.2" x2="1043.0" y2="272.0" stroke="#1a1a1a" stroke-width="1.2" />
<rect x="1027.5" y="272.0" width="30.0" height="17.0" fill="#fff" stroke="#1a1a1a" stroke-width="1.2" />
<text x="1029.85" y="285.5" font-family="Liberation Sans" font-size="14.55" font-weight="normal" font-style="normal" fill="#222" textLength="23.61" lengthAdjust="spacingAndGlyphs" >KM1</text>
<line x1="1042.5" y1="289.0" x2="1042.5" y2="305.3" stroke="#1a1a1a" stroke-width="1.2" />
<line x1="1034.0" y1="305.3" x2="1042.5" y2="305.3" stroke="#1a1a1a" stroke-width="1.2" />
<line x1="1038.9" y1="316.5" x2="1042.2" y2="297.5" stroke="#1a1a1a" stroke-width="1.2" />
<line x1="1038.7" y1="318.5" x2="1038.7" y2="358.2" stroke="#1a1a1a" stroke-width="1.2" />
<line x1="1038.7" y1="324.8" x2="1051.5" y2="324.8" stroke="#1a1a1a" stroke-width="1.2" />
<path d="M1051.5,318.3 L1051.5,331.3 M1051.5,318.3 C1058.5,318.3 1058.5,331.3 1051.5,331.3" fill="none" stroke="#1a1a1a" stroke-width="1.2" />
<text x="1061.18" y="329.6" font-family="Liberation Sans" font-size="13.19" font-weight="normal" font-style="normal" fill="#222" textLength="31.22" lengthAdjust="spacingAndGlyphs" >STOP</text>
<circle cx="1038.7" cy="348.1" r="2.6" fill="#1a1a1a"/>
<polyline points="1038.7,348.1 1073.4,348.1 1073.4,359.8" fill="none" stroke="#1a1a1a" stroke-width="1.2" />
<line x1="1043.3" y1="392.3" x2="1056.3" y2="368.3" stroke="#1a1a1a" stroke-width="1.2" />
<line x1="1043.3" y1="392.3" x2="1043.3" y2="410.5" stroke="#1a1a1a" stroke-width="1.2" />
<line x1="1065.6" y1="392.3" x2="1078.3" y2="368.3" stroke="#1a1a1a" stroke-width="1.2" />
<line x1="1065.6" y1="392.3" x2="1065.6" y2="410.5" stroke="#1a1a1a" stroke-width="1.2" />
<line x1="1075.0" y1="375.7" x2="1080.2" y2="375.7" stroke="#1a1a1a" stroke-width="1.2" />
<line x1="1080.2" y1="371.2" x2="1080.2" y2="381.3" stroke="#1a1a1a" stroke-width="1.2" />
<circle cx="1043.3" cy="410.5" r="2.6" fill="#1a1a1a"/>
<circle cx="1065.6" cy="410.5" r="2.6" fill="#1a1a1a"/>
<text x="1017.52" y="380.1" font-family="Liberation Sans" font-size="13.24" font-weight="normal" font-style="normal" fill="#222" textLength="22.34" lengthAdjust="spacingAndGlyphs" >KA1</text>
<text x="1084.28" y="380.1" font-family="Liberation Sans" font-size="13.05" font-weight="normal" font-style="normal" fill="#222" textLength="36.58" lengthAdjust="spacingAndGlyphs" >START</text>
<line x1="1154.2" y1="258.3" x2="1154.2" y2="299.6" stroke="#1a1a1a" stroke-width="1.2" />
<line x1="1154.2" y1="370.5" x2="1154.2" y2="407.6" stroke="#1a1a1a" stroke-width="1.2" />
<rect x="1152.7" y="268" width="3" height="7" fill="#111"/>
<rect x="1152.7" y="392" width="3" height="7.5" fill="#111"/>
<text x="-366.59" y="0" transform="translate(1159,0) rotate(-90)" font-family="Liberation Sans" font-size="20.07" font-weight="bold" font-style="normal" fill="#111" textLength="44.74" lengthAdjust="spacingAndGlyphs" >110 V</text>
<text x="-320.76" y="0" transform="translate(1159,0) rotate(-90)" font-family="Liberation Sans" font-size="12.9" font-weight="bold" font-style="normal" fill="#111" textLength="15.04" lengthAdjust="spacingAndGlyphs" >AC</text>
<path d="M604.7,178.4 L634.7,178.4 L634.7,612.9 A26,26 0 0 0 660.7,638.9 L1142.4,638.9 A19,19 0 0 0 1161.4,619.9 L1161.4,461.8 A15.5,15.5 0 0 0 1145.9,446.3 L921,446.3" fill="none" stroke="#505050" stroke-width="7.7" stroke-linejoin="miter"/>
<rect x="628.7" y="198.6" width="10.5" height="33.4" fill="#fff" stroke="#1a1a1a" stroke-width="1.1" />
<rect x="620.0" y="211.0" width="28.8" height="8.7" fill="#fff" stroke="#1a1a1a" stroke-width="1.1" />
<rect x="622.6" y="213.4" width="3.8" height="3.8" fill="none" stroke="#1a1a1a" stroke-width="0.9" />
<rect x="642.3" y="213.4" width="3.8" height="3.8" fill="none" stroke="#1a1a1a" stroke-width="0.9" />
<path d="M628.7,212 Q634,216.5 639.2,212" fill="none" stroke="#1a1a1a" stroke-width="1.0" />
<path d="M628.7,218.7 Q634,214.5 639.2,218.7" fill="none" stroke="#1a1a1a" stroke-width="1.0" />
<ellipse cx="606.2" cy="215.0" rx="9.6" ry="10.1" fill="#fff" stroke="#1a1a1a" stroke-width="1.2"/>
<line x1="606.2" y1="204.9" x2="606.2" y2="216.0" stroke="#1a1a1a" stroke-width="1.2" />
<line x1="599.4000000000001" y1="216.0" x2="613.0" y2="216.0" stroke="#1a1a1a" stroke-width="1.2" />
<line x1="600.9000000000001" y1="219.0" x2="611.5" y2="219.0" stroke="#1a1a1a" stroke-width="1.2" />
<line x1="603.3000000000001" y1="221.3" x2="609.1" y2="221.3" stroke="#1a1a1a" stroke-width="1.2" />
<text x="576.51" y="217.7" font-family="Liberation Sans" font-size="12.22" font-weight="bold" font-style="normal" fill="#0a0a0a" textLength="15.65" lengthAdjust="spacingAndGlyphs" stroke="#0a0a0a" stroke-width="0.7">PE</text>
<path d="M604.2,176.6 C601.5,165 599.5,150 600,141.7 C600.5,133 606,126 612,122 C620,117 640,110 664.5,102" fill="none" stroke="#222" stroke-width="1.1" stroke-dasharray="3,0.8"/>
<polygon points="660.9,100.0 669.5,85.0 677.0,89.5 668.0,104.5" fill="#fbfbfb" stroke="#1a1a1a" stroke-width="1.1"/>
<circle cx="679.6" cy="77.5" r="10.4" fill="#fff" stroke="#1a1a1a" stroke-width="1.3" />
<circle cx="679.6" cy="77.5" r="7.0" fill="#fbfbfb" stroke="#1a1a1a" stroke-width="1.3" />
<line x1="673.2" y1="79.0" x2="686.2" y2="75.2" stroke="#1a1a1a" stroke-width="1.2" />
<ellipse cx="656.0" cy="73.7" rx="9.4" ry="9.8" fill="#fff" stroke="#1a1a1a" stroke-width="1.2"/>
<line x1="656.0" y1="63.900000000000006" x2="656.0" y2="74.7" stroke="#1a1a1a" stroke-width="1.2" />
<line x1="649.2" y1="74.7" x2="662.8" y2="74.7" stroke="#1a1a1a" stroke-width="1.2" />
<line x1="650.7" y1="77.7" x2="661.3" y2="77.7" stroke="#1a1a1a" stroke-width="1.2" />
<line x1="653.1" y1="80.0" x2="658.9" y2="80.0" stroke="#1a1a1a" stroke-width="1.2" />
<text x="627.03" y="77.2" font-family="Liberation Sans" font-size="12.8" font-weight="bold" font-style="normal" fill="#0a0a0a" textLength="15.21" lengthAdjust="spacingAndGlyphs" stroke="#0a0a0a" stroke-width="0.7">PE</text>
<path id="gy" d="M597.4,157 C597,146 598.7,135 603.2,128 C608.2,121 616.2,117 626.2,113 C634.2,110 642.2,107.5 650.2,105" fill="none"/>
<text font-family="Liberation Sans" font-size="12.6" fill="#222" textLength="83" lengthAdjust="spacingAndGlyphs"><textPath href="#gy">GREEN / YELLOW</textPath></text>
<text x="337.92" y="317.7" font-family="Liberation Sans" font-size="21.53" font-weight="normal" font-style="normal" fill="#222" textLength="71.61" lengthAdjust="spacingAndGlyphs" >Test point</text>
<text x="338.19" y="341.5" font-family="Liberation Sans" font-size="18.76" font-weight="normal" font-style="normal" fill="#222" textLength="73.39" lengthAdjust="spacingAndGlyphs" >connector</text>
<polyline points="341.25,346.25 439.5,346.25 472.5,320.5" fill="none" stroke="#1a1a1a" stroke-width="1.1" />
<text x="298.45" y="440.17" font-family="Liberation Sans" font-size="17.99" font-weight="bold" font-style="normal" fill="#222" textLength="8.19" lengthAdjust="spacingAndGlyphs" >*</text>
<text x="309.16" y="447.7" font-family="Liberation Sans" font-size="21.65" font-weight="normal" font-style="normal" fill="#222" textLength="125.41" lengthAdjust="spacingAndGlyphs" >Signal Connector</text>
<polyline points="310.25,452.8 441.0,452.8 467.0,434.4" fill="none" stroke="#1a1a1a" stroke-width="1.1" />
<text x="337.86" y="541.7" font-family="Liberation Sans" font-size="21.08" font-weight="normal" font-style="normal" fill="#222" textLength="80.31" lengthAdjust="spacingAndGlyphs" >Signal leds</text>
<polyline points="341.0,548.5 438.0,548.5 467.0,528.7" fill="none" stroke="#1a1a1a" stroke-width="1.1" />
<text x="236.87" y="675.0" font-family="Liberation Sans" font-size="19.93" font-weight="normal" font-style="normal" fill="#222" textLength="149.4" lengthAdjust="spacingAndGlyphs" >Calibration trimmers</text>
<text x="237.27" y="698.9" font-family="Liberation Sans" font-size="20.97" font-weight="normal" font-style="normal" fill="#222" textLength="173.32" lengthAdjust="spacingAndGlyphs" >(removable config card)</text>
<polyline points="220.0,707.2 418.7,707.2 458.5,601.0" fill="none" stroke="#1a1a1a" stroke-width="1.1" />
<rect x="771.0" y="694.7" width="26.3" height="12.9" fill="#fff" stroke="#1a1a1a" stroke-width="1.2" />
<rect x="797.3" y="663.4" width="340.0" height="76.1" fill="#fff" stroke="#1a1a1a" stroke-width="1.3" />
<line x1="807.0" y1="663.4" x2="807.0" y2="739.5" stroke="#1a1a1a" stroke-width="1.2" />
<rect x="795.4" y="678.2" width="2.4" height="46.4" fill="#1a1a1a"/>
<text x="854.01" y="710.5" font-family="Liberation Sans" font-size="23.56" font-weight="bold" font-style="normal" fill="#111" textLength="138.6" lengthAdjust="spacingAndGlyphs" >DC Servomotors</text>
<rect x="1047.0" y="663.75" width="90.25" height="76.0" fill="#fff" stroke="#1a1a1a" stroke-width="1.2" />
<line x1="1074.25" y1="663.75" x2="1074.25" y2="739.75" stroke="#1a1a1a" stroke-width="1.2" />
<line x1="1082.1" y1="663.75" x2="1082.1" y2="739.75" stroke="#1a1a1a" stroke-width="1.2" />
<line x1="1099.6" y1="663.75" x2="1099.6" y2="739.75" stroke="#1a1a1a" stroke-width="1.2" />
<line x1="1132.0" y1="663.75" x2="1132.0" y2="739.75" stroke="#1a1a1a" stroke-width="1.2" />
<rect x="1047.0" y="650.6" width="26.4" height="13.15" fill="#fff" stroke="#1a1a1a" stroke-width="1.2" />
<rect x="1075.6" y="649.75" width="25.8" height="14.0" fill="#fff" stroke="#1a1a1a" stroke-width="1.2" />
<rect x="1029.6" y="630.5" width="4.4" height="17.5" fill="#fff" stroke="#1a1a1a" stroke-width="1.2" />
<rect x="1035.4" y="629.1" width="37.1" height="20.3" fill="#fff" stroke="#1a1a1a" stroke-width="1.2" />
<line x1="1049.4" y1="629.1" x2="1049.4" y2="649.4" stroke="#1a1a1a" stroke-width="1.2" />
<rect x="1077.8" y="627.4" width="36.7" height="22.0" fill="#fff" stroke="#1a1a1a" stroke-width="1.2" />
<line x1="1100.0" y1="627.4" x2="1100.0" y2="649.4" stroke="#1a1a1a" stroke-width="1.2" />
<rect x="1115.9" y="628.75" width="4.7" height="18.95" fill="#fff" stroke="#1a1a1a" stroke-width="1.2" />
<ellipse cx="1060.25" cy="675.0" rx="10.2" ry="5.6" fill="#fff" stroke="#1a1a1a" stroke-width="1.1"/>
<ellipse cx="1060.25" cy="678.2" rx="10.2" ry="5.6" fill="#fff" stroke="#1a1a1a" stroke-width="1.1"/>
<ellipse cx="1060.25" cy="681.4" rx="10.2" ry="5.6" fill="#fff" stroke="#1a1a1a" stroke-width="1.1"/>
<line x1="1054.25" y1="678.0" x2="1066.25" y2="672.0" stroke="#1a1a1a" stroke-width="1.1" />
<ellipse cx="1060.25" cy="727.0" rx="10.2" ry="5.6" fill="#fff" stroke="#1a1a1a" stroke-width="1.1"/>
<ellipse cx="1060.25" cy="723.8" rx="10.2" ry="5.6" fill="#fff" stroke="#1a1a1a" stroke-width="1.1"/>
<ellipse cx="1060.25" cy="720.6" rx="10.2" ry="5.6" fill="#fff" stroke="#1a1a1a" stroke-width="1.1"/>
<line x1="1054.25" y1="723.6" x2="1066.25" y2="717.6" stroke="#1a1a1a" stroke-width="1.1" />
<circle cx="1090.9" cy="700.5" r="4.8" fill="#fff" stroke="#1a1a1a" stroke-width="1.2" />
<defs>
<mask id="mb" maskUnits="userSpaceOnUse" x="0" y="0" width="1190" height="800"><polygon points="1169.48,690.60 1181.82,687.29 1177.00,669.33 1164.66,672.63 1162.85,668.44 1160.79,664.35 1158.50,660.39 1155.99,656.56 1153.26,652.89 1162.30,643.86 1149.14,630.70 1140.11,639.74 1136.44,637.01 1132.61,634.50 1128.65,632.21 1124.56,630.15 1120.37,628.34 1123.67,616.00 1105.71,611.18 1102.40,623.52 1097.85,623.00 1093.29,622.73 1088.71,622.73 1084.15,623.00 1079.60,623.52 1076.29,611.18 1058.33,616.00 1061.63,628.34 1057.44,630.15 1053.35,632.21 1049.39,634.50 1045.56,637.01 1041.89,639.74 1032.86,630.70 1019.70,643.86 1028.74,652.89 1026.01,656.56 1023.50,660.39 1021.21,664.35 1019.15,668.44 1017.34,672.63 1005.00,669.33 1000.18,687.29 1012.52,690.60 1012.00,695.15 1011.73,699.71 1011.73,704.29 1012.00,708.85 1012.52,713.40 1000.18,716.71 1005.00,734.67 1017.34,731.37 1019.15,735.56 1021.21,739.65 1023.50,743.61 1026.01,747.44 1028.74,751.11 1019.70,760.14 1032.86,773.30 1041.89,764.26 1045.56,766.99 1049.39,769.50 1053.35,771.79 1057.44,773.85 1061.63,775.66 1058.33,788.00 1076.29,792.82 1079.60,780.48 1084.15,781.00 1088.71,781.27 1093.29,781.27 1097.85,781.00 1102.40,780.48 1105.71,792.82 1123.67,788.00 1120.37,775.66 1124.56,773.85 1128.65,771.79 1132.61,769.50 1136.44,766.99 1140.11,764.26 1149.14,773.30 1162.30,760.14 1153.26,751.11 1155.99,747.44 1158.50,743.61 1160.79,739.65 1162.85,735.56 1164.66,731.37 1177.00,734.67 1181.82,716.71 1169.48,713.40 1170.00,708.85 1170.27,704.29 1170.27,699.71 1170.00,695.15" fill="none" stroke="#c8c8c8" stroke-width="13.5"/><polygon points="1169.48,690.60 1181.82,687.29 1177.00,669.33 1164.66,672.63 1162.85,668.44 1160.79,664.35 1158.50,660.39 1155.99,656.56 1153.26,652.89 1162.30,643.86 1149.14,630.70 1140.11,639.74 1136.44,637.01 1132.61,634.50 1128.65,632.21 1124.56,630.15 1120.37,628.34 1123.67,616.00 1105.71,611.18 1102.40,623.52 1097.85,623.00 1093.29,622.73 1088.71,622.73 1084.15,623.00 1079.60,623.52 1076.29,611.18 1058.33,616.00 1061.63,628.34 1057.44,630.15 1053.35,632.21 1049.39,634.50 1045.56,637.01 1041.89,639.74 1032.86,630.70 1019.70,643.86 1028.74,652.89 1026.01,656.56 1023.50,660.39 1021.21,664.35 1019.15,668.44 1017.34,672.63 1005.00,669.33 1000.18,687.29 1012.52,690.60 1012.00,695.15 1011.73,699.71 1011.73,704.29 1012.00,708.85 1012.52,713.40 1000.18,716.71 1005.00,734.67 1017.34,731.37 1019.15,735.56 1021.21,739.65 1023.50,743.61 1026.01,747.44 1028.74,751.11 1019.70,760.14 1032.86,773.30 1041.89,764.26 1045.56,766.99 1049.39,769.50 1053.35,771.79 1057.44,773.85 1061.63,775.66 1058.33,788.00 1076.29,792.82 1079.60,780.48 1084.15,781.00 1088.71,781.27 1093.29,781.27 1097.85,781.00 1102.40,780.48 1105.71,792.82 1123.67,788.00 1120.37,775.66 1124.56,773.85 1128.65,771.79 1132.61,769.50 1136.44,766.99 1140.11,764.26 1149.14,773.30 1162.30,760.14 1153.26,751.11 1155.99,747.44 1158.50,743.61 1160.79,739.65 1162.85,735.56 1164.66,731.37 1177.00,734.67 1181.82,716.71 1169.48,713.40 1170.00,708.85 1170.27,704.29 1170.27,699.71 1170.00,695.15" fill="none" stroke="#000" stroke-width="9"/><polygon points="1169.48,690.60 1181.82,687.29 1177.00,669.33 1164.66,672.63 1162.85,668.44 1160.79,664.35 1158.50,660.39 1155.99,656.56 1153.26,652.89 1162.30,643.86 1149.14,630.70 1140.11,639.74 1136.44,637.01 1132.61,634.50 1128.65,632.21 1124.56,630.15 1120.37,628.34 1123.67,616.00 1105.71,611.18 1102.40,623.52 1097.85,623.00 1093.29,622.73 1088.71,622.73 1084.15,623.00 1079.60,623.52 1076.29,611.18 1058.33,616.00 1061.63,628.34 1057.44,630.15 1053.35,632.21 1049.39,634.50 1045.56,637.01 1041.89,639.74 1032.86,630.70 1019.70,643.86 1028.74,652.89 1026.01,656.56 1023.50,660.39 1021.21,664.35 1019.15,668.44 1017.34,672.63 1005.00,669.33 1000.18,687.29 1012.52,690.60 1012.00,695.15 1011.73,699.71 1011.73,704.29 1012.00,708.85 1012.52,713.40 1000.18,716.71 1005.00,734.67 1017.34,731.37 1019.15,735.56 1021.21,739.65 1023.50,743.61 1026.01,747.44 1028.74,751.11 1019.70,760.14 1032.86,773.30 1041.89,764.26 1045.56,766.99 1049.39,769.50 1053.35,771.79 1057.44,773.85 1061.63,775.66 1058.33,788.00 1076.29,792.82 1079.60,780.48 1084.15,781.00 1088.71,781.27 1093.29,781.27 1097.85,781.00 1102.40,780.48 1105.71,792.82 1123.67,788.00 1120.37,775.66 1124.56,773.85 1128.65,771.79 1132.61,769.50 1136.44,766.99 1140.11,764.26 1149.14,773.30 1162.30,760.14 1153.26,751.11 1155.99,747.44 1158.50,743.61 1160.79,739.65 1162.85,735.56 1164.66,731.37 1177.00,734.67 1181.82,716.71 1169.48,713.40 1170.00,708.85 1170.27,704.29 1170.27,699.71 1170.00,695.15" fill="#fff"/><path d="M1040,690.6 L1066.5,690.6 L1066.5,664.5 L1078.6,664.5 L1078.6,731 L1066.5,731 L1066.5,703.8 L1040,703.8 Z" fill="#000"/><path d="M1079,697.8 L1108.8,665.5 L1126.8,665.5 L1098,696.7 L1110.5,711.5 L1118.3,707.9 L1126.2,736.6 L1098,729.3 L1102,722.5 Z" fill="#000"/><circle cx="1091.0" cy="702.0" r="70.3" fill="none" stroke="#000" stroke-width="3.4"/><circle cx="1091.0" cy="702.0" r="62.4" fill="none" stroke="#000" stroke-width="2.8"/></mask>
<mask id="mw" maskUnits="userSpaceOnUse" x="0" y="0" width="1190" height="800"><rect x="993" y="603" width="197" height="197" fill="#fff"/><polygon points="1169.48,690.60 1181.82,687.29 1177.00,669.33 1164.66,672.63 1162.85,668.44 1160.79,664.35 1158.50,660.39 1155.99,656.56 1153.26,652.89 1162.30,643.86 1149.14,630.70 1140.11,639.74 1136.44,637.01 1132.61,634.50 1128.65,632.21 1124.56,630.15 1120.37,628.34 1123.67,616.00 1105.71,611.18 1102.40,623.52 1097.85,623.00 1093.29,622.73 1088.71,622.73 1084.15,623.00 1079.60,623.52 1076.29,611.18 1058.33,616.00 1061.63,628.34 1057.44,630.15 1053.35,632.21 1049.39,634.50 1045.56,637.01 1041.89,639.74 1032.86,630.70 1019.70,643.86 1028.74,652.89 1026.01,656.56 1023.50,660.39 1021.21,664.35 1019.15,668.44 1017.34,672.63 1005.00,669.33 1000.18,687.29 1012.52,690.60 1012.00,695.15 1011.73,699.71 1011.73,704.29 1012.00,708.85 1012.52,713.40 1000.18,716.71 1005.00,734.67 1017.34,731.37 1019.15,735.56 1021.21,739.65 1023.50,743.61 1026.01,747.44 1028.74,751.11 1019.70,760.14 1032.86,773.30 1041.89,764.26 1045.56,766.99 1049.39,769.50 1053.35,771.79 1057.44,773.85 1061.63,775.66 1058.33,788.00 1076.29,792.82 1079.60,780.48 1084.15,781.00 1088.71,781.27 1093.29,781.27 1097.85,781.00 1102.40,780.48 1105.71,792.82 1123.67,788.00 1120.37,775.66 1124.56,773.85 1128.65,771.79 1132.61,769.50 1136.44,766.99 1140.11,764.26 1149.14,773.30 1162.30,760.14 1153.26,751.11 1155.99,747.44 1158.50,743.61 1160.79,739.65 1162.85,735.56 1164.66,731.37 1177.00,734.67 1181.82,716.71 1169.48,713.40 1170.00,708.85 1170.27,704.29 1170.27,699.71 1170.00,695.15" fill="none" stroke="#373737" stroke-width="13.5"/><polygon points="1169.48,690.60 1181.82,687.29 1177.00,669.33 1164.66,672.63 1162.85,668.44 1160.79,664.35 1158.50,660.39 1155.99,656.56 1153.26,652.89 1162.30,643.86 1149.14,630.70 1140.11,639.74 1136.44,637.01 1132.61,634.50 1128.65,632.21 1124.56,630.15 1120.37,628.34 1123.67,616.00 1105.71,611.18 1102.40,623.52 1097.85,623.00 1093.29,622.73 1088.71,622.73 1084.15,623.00 1079.60,623.52 1076.29,611.18 1058.33,616.00 1061.63,628.34 1057.44,630.15 1053.35,632.21 1049.39,634.50 1045.56,637.01 1041.89,639.74 1032.86,630.70 1019.70,643.86 1028.74,652.89 1026.01,656.56 1023.50,660.39 1021.21,664.35 1019.15,668.44 1017.34,672.63 1005.00,669.33 1000.18,687.29 1012.52,690.60 1012.00,695.15 1011.73,699.71 1011.73,704.29 1012.00,708.85 1012.52,713.40 1000.18,716.71 1005.00,734.67 1017.34,731.37 1019.15,735.56 1021.21,739.65 1023.50,743.61 1026.01,747.44 1028.74,751.11 1019.70,760.14 1032.86,773.30 1041.89,764.26 1045.56,766.99 1049.39,769.50 1053.35,771.79 1057.44,773.85 1061.63,775.66 1058.33,788.00 1076.29,792.82 1079.60,780.48 1084.15,781.00 1088.71,781.27 1093.29,781.27 1097.85,781.00 1102.40,780.48 1105.71,792.82 1123.67,788.00 1120.37,775.66 1124.56,773.85 1128.65,771.79 1132.61,769.50 1136.44,766.99 1140.11,764.26 1149.14,773.30 1162.30,760.14 1153.26,751.11 1155.99,747.44 1158.50,743.61 1160.79,739.65 1162.85,735.56 1164.66,731.37 1177.00,734.67 1181.82,716.71 1169.48,713.40 1170.00,708.85 1170.27,704.29 1170.27,699.71 1170.00,695.15" fill="none" stroke="#fff" stroke-width="9"/><polygon points="1169.48,690.60 1181.82,687.29 1177.00,669.33 1164.66,672.63 1162.85,668.44 1160.79,664.35 1158.50,660.39 1155.99,656.56 1153.26,652.89 1162.30,643.86 1149.14,630.70 1140.11,639.74 1136.44,637.01 1132.61,634.50 1128.65,632.21 1124.56,630.15 1120.37,628.34 1123.67,616.00 1105.71,611.18 1102.40,623.52 1097.85,623.00 1093.29,622.73 1088.71,622.73 1084.15,623.00 1079.60,623.52 1076.29,611.18 1058.33,616.00 1061.63,628.34 1057.44,630.15 1053.35,632.21 1049.39,634.50 1045.56,637.01 1041.89,639.74 1032.86,630.70 1019.70,643.86 1028.74,652.89 1026.01,656.56 1023.50,660.39 1021.21,664.35 1019.15,668.44 1017.34,672.63 1005.00,669.33 1000.18,687.29 1012.52,690.60 1012.00,695.15 1011.73,699.71 1011.73,704.29 1012.00,708.85 1012.52,713.40 1000.18,716.71 1005.00,734.67 1017.34,731.37 1019.15,735.56 1021.21,739.65 1023.50,743.61 1026.01,747.44 1028.74,751.11 1019.70,760.14 1032.86,773.30 1041.89,764.26 1045.56,766.99 1049.39,769.50 1053.35,771.79 1057.44,773.85 1061.63,775.66 1058.33,788.00 1076.29,792.82 1079.60,780.48 1084.15,781.00 1088.71,781.27 1093.29,781.27 1097.85,781.00 1102.40,780.48 1105.71,792.82 1123.67,788.00 1120.37,775.66 1124.56,773.85 1128.65,771.79 1132.61,769.50 1136.44,766.99 1140.11,764.26 1149.14,773.30 1162.30,760.14 1153.26,751.11 1155.99,747.44 1158.50,743.61 1160.79,739.65 1162.85,735.56 1164.66,731.37 1177.00,734.67 1181.82,716.71 1169.48,713.40 1170.00,708.85 1170.27,704.29 1170.27,699.71 1170.00,695.15" fill="#000"/><path d="M1040,690.6 L1066.5,690.6 L1066.5,664.5 L1078.6,664.5 L1078.6,731 L1066.5,731 L1066.5,703.8 L1040,703.8 Z" fill="#fff"/><path d="M1079,697.8 L1108.8,665.5 L1126.8,665.5 L1098,696.7 L1110.5,711.5 L1118.3,707.9 L1126.2,736.6 L1098,729.3 L1102,722.5 Z" fill="#fff"/><circle cx="1091.0" cy="702.0" r="70.3" fill="none" stroke="#fff" stroke-width="3.4"/><circle cx="1091.0" cy="702.0" r="62.4" fill="none" stroke="#fff" stroke-width="2.8"/></mask>
</defs>
<rect x="900" y="500" width="290" height="300" fill="#fff" fill-opacity="0.33" mask="url(#mw)"/>
<rect x="900" y="500" width="290" height="300" fill="#4f6ade" fill-opacity="0.45" mask="url(#mb)"/>
</svg>
</body></html>
